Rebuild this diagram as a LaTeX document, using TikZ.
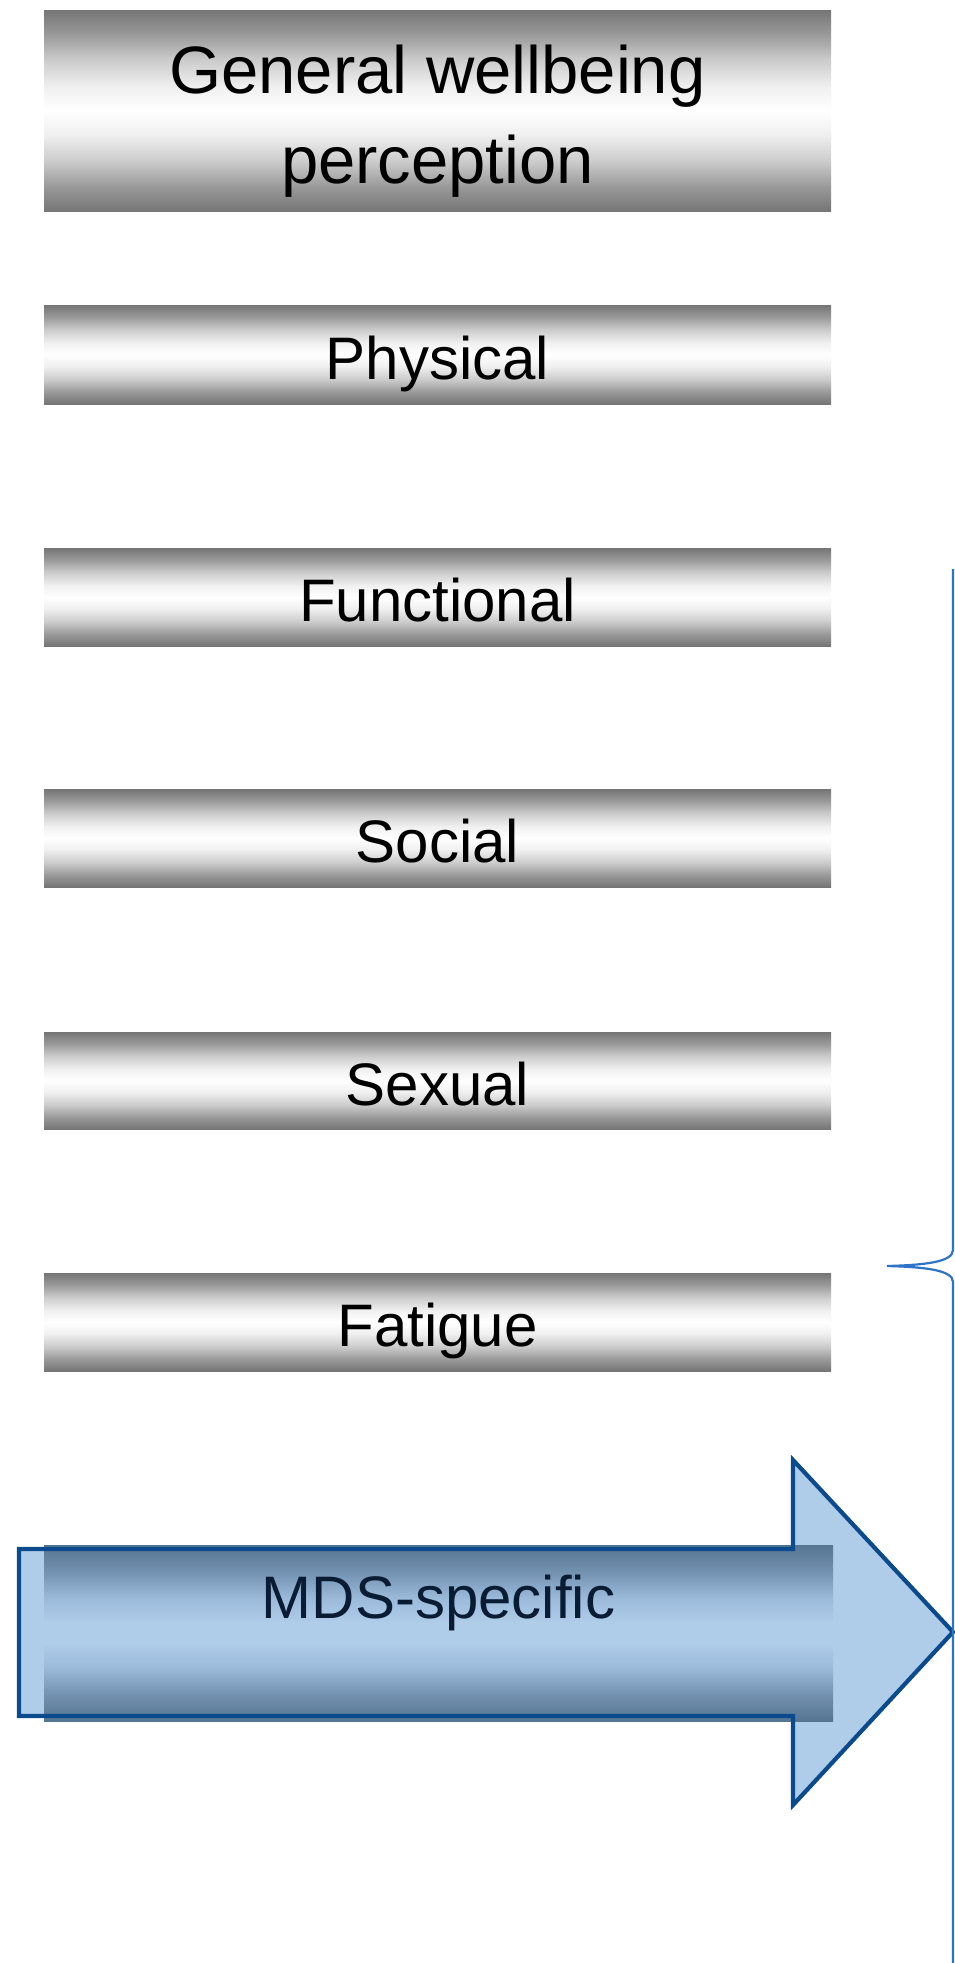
\documentclass[tikz,border=0pt]{standalone}
\usepackage{fontspec}
\setmainfont{Liberation Sans}
\definecolor{mgA}{gray}{0.46}
\definecolor{mgB}{gray}{0.60}
\definecolor{mgC}{gray}{0.80}
\definecolor{mgD}{gray}{0.94}
\definecolor{bdA}{HTML}{557591}
\definecolor{bdB}{HTML}{7593B2}
\definecolor{bdC}{HTML}{9BBADA}
\definecolor{bdD}{HTML}{AFCCE9}
\definecolor{arrowfill}{HTML}{AFCCE9}
\definecolor{arrowline}{HTML}{0B4A8C}
\definecolor{bracecol}{HTML}{2E74C6}
\definecolor{mdstext}{HTML}{0A1C33}
\pgfdeclareverticalshading{metal}{100bp}{color(0bp)=(mgA); color(25bp)=(mgA); color(31bp)=(mgB); color(37.5bp)=(mgC); color(44bp)=(mgD); color(50bp)=(white); color(56bp)=(mgD); color(62.5bp)=(mgC); color(69bp)=(mgB); color(75bp)=(mgA); color(100bp)=(mgA)}
\pgfdeclareverticalshading{bluemetal}{100bp}{color(0bp)=(bdA); color(25bp)=(bdA); color(33bp)=(bdB); color(40bp)=(bdC); color(47bp)=(bdD); color(53bp)=(bdD); color(60bp)=(bdC); color(67bp)=(bdB); color(75bp)=(bdA); color(100bp)=(bdA)}
\begin{document}
\begin{tikzpicture}[x=1pt,y=-1pt,
  barbox/.style={rectangle, inner sep=0pt, outer sep=0pt, minimum width=787pt, shading=metal, draw=none},
  bluebox/.style={rectangle, inner sep=0pt, outer sep=0pt, minimum width=789pt, shading=bluemetal, draw=none},
  lbl/.style={anchor=base, inner sep=0pt, font=\fontsize{60}{70}\selectfont},
  ttl/.style={anchor=base, inner sep=0pt, font=\fontsize{67}{77}\selectfont},
  bracestyle/.style={draw=bracecol, line width=2.2pt}]
\useasboundingbox (0,0) rectangle (954,1963);
\fill[white] (0,0) rectangle (954,1963);

% grey bars
\node[barbox, minimum height=201pt] (title) at (437.5,110.5) {};
\node[barbox, minimum height=99pt] (physical) at (437.5,354.5) {};
\node[barbox, minimum height=98pt] (functional) at (437.5,597) {};
\node[barbox, minimum height=98pt] (social) at (437.5,838) {};
\node[barbox, minimum height=97pt] (sexual) at (437.5,1080.5) {};
\node[barbox, minimum height=98pt] (fatigue) at (437.5,1322) {};

\node[ttl] (t1) at (437.5,93) {General wellbeing};
\node[ttl] (t2) at (437.5,183) {perception};
\node[lbl] (tphys) at ([yshift=-24.5pt]physical.center) {Physical};
\node[lbl] (tfunc) at ([yshift=-24.5pt]functional.center) {Functional};
\node[lbl] (tsoc) at ([yshift=-24.5pt]social.center) {Social};
\node[lbl] (tsex) at ([yshift=-24.5pt]sexual.center) {Sexual};
\node[lbl] (tfat) at ([yshift=-24.5pt]fatigue.center) {Fatigue};

% big arrow
\coordinate (a1) at (19,1549);
\coordinate (a2) at (793,1549);
\coordinate (a3) at (793,1460);
\coordinate (a4) at (953,1632);
\coordinate (a5) at (793,1805);
\coordinate (a6) at (793,1716);
\coordinate (a7) at (19,1716);
\fill[arrowfill] (a1) -- (a2) -- (a3) -- (a4) -- (a5) -- (a6) -- (a7) -- cycle;
\node[bluebox, minimum height=176pt] (mds) at (438.5,1633) {};
\draw[arrowline, line width=4.2pt, line join=miter] (a1) -- (a2) -- (a3) -- (a4) -- (a5) -- (a6) -- (a7) -- cycle;
\node[lbl, text=mdstext] (tmds) at (438.5,1618) {MDS-specific};

% brace
\coordinate (bTop) at (953,569);
\coordinate (bUp) at (953,1250);
\coordinate (bTip) at (887,1266);
\coordinate (bLow) at (953,1282);
\coordinate (bBot) at (953,1975);
\draw[bracestyle] (bTop) -- (bUp) .. controls (953,1262) and (925,1265) .. (bTip)
  .. controls (925,1267) and (953,1270) .. (bLow) -- (bBot);
\end{tikzpicture}
\end{document}
